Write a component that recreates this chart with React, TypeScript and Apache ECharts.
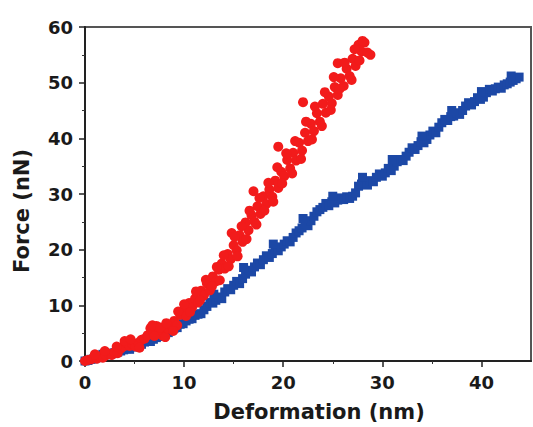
import React, { useEffect, useRef } from "react";
import * as echarts from "echarts";

const xTicks = [0, 10, 20, 30, 40];
const xMinorTicks = [5, 15, 25, 35];
const yTicks = [0, 10, 20, 30, 40, 50, 60];

// Blue series (softer sample): [deformation nm, force nN]
const bluePoints: number[][] = [
  [0,0],[0.3,0.1],[0.6,0.3],[0.9,0.4],[1.2,0.6],[1.5,0.7],[1.8,1.2],[2.1,1.4],[2.4,1.1],[2.7,1.3],
  [3.0,1.5],[3.3,1.6],[3.6,1.8],[3.9,2.0],[4.2,2.2],[4.5,2.1],[4.8,2.5],[5.1,2.6],[5.4,2.9],[5.7,3.0],
  [6.0,3.4],[6.3,3.6],[6.6,3.5],[6.9,3.9],[7.2,4.2],[7.5,4.4],[7.8,4.5],[8.1,5.0],[8.4,5.1],[8.7,5.6],
  [9.0,5.9],[9.3,6.0],[9.6,6.6],[9.9,6.7],[10.2,7.2],[10.5,7.5],[10.8,7.6],[11.1,8.2],[11.4,8.4],[11.7,8.5],
  [12.0,9.2],[12.3,9.8],[12.6,10.5],[12.9,10.4],[13.2,10.9],[13.5,11.5],[13.8,11.2],[14.1,12.4],[14.4,13.0],[14.7,12.8],
  [15.0,13.6],[15.3,14.3],[15.6,13.9],[15.9,14.8],[16.2,15.6],[16.5,16.3],[16.8,16.0],[17.1,16.9],[17.4,17.6],[17.7,17.3],
  [18.0,18.2],[18.3,18.9],[18.6,18.6],[18.9,19.3],[19.2,20.1],[19.5,19.8],[19.8,20.5],[20.1,21.0],[20.4,21.6],[20.7,21.4],
  [21.0,22.2],[21.3,23.0],[21.6,23.4],[21.9,23.9],[22.2,24.6],[22.5,24.3],[22.8,25.2],[23.1,26.0],[23.4,26.8],[23.7,27.2],
  [24.0,27.6],[24.3,28.3],[24.6,27.9],[24.9,28.6],[25.2,28.4],[25.5,28.9],[25.8,29.3],[26.1,29.0],[26.4,29.5],[26.7,29.2],
  [27.0,29.6],[27.3,30.2],[27.6,31.4],[27.9,31.8],[28.2,32.0],[28.5,31.6],[28.8,32.4],[29.1,32.2],[29.4,33.0],[29.7,33.6],
  [30.0,33.2],[30.3,33.8],[30.6,34.6],[30.9,34.2],[31.2,35.0],[31.5,35.8],[31.8,36.2],[32.1,36.0],[32.4,36.8],[32.7,37.5],
  [33.0,38.3],[33.3,38.0],[33.6,38.7],[33.9,39.4],[34.2,39.2],[34.5,39.8],[34.8,40.6],[35.1,41.3],[35.4,41.0],[35.7,42.0],
  [36.0,42.8],[36.3,43.4],[36.6,43.2],[36.9,43.9],[37.2,44.0],[37.5,44.6],[37.8,44.3],[38.1,45.0],[38.4,45.8],[38.7,46.4],
  [39.0,46.0],[39.3,46.6],[39.6,47.3],[39.9,47.0],[40.2,47.4],[40.5,48.2],[40.8,48.8],[41.1,48.5],[41.4,48.9],[41.7,49.2],
  [42.0,49.0],[42.3,49.6],[42.6,49.8],[42.9,50.1],[43.2,50.4],[43.5,50.7],[43.8,51.0],
  [13.0,12.0],[16.0,16.8],[19.0,21.0],[22.0,25.6],[25.0,29.6],[28.0,33.0],[31.0,36.2],[34.0,40.4],[37.0,45.0],[40.0,48.4],[43.0,51.2]
];

// Red series (stiffer sample): [deformation nm, force nN]
const redPoints: number[][] = [
  [0,0],[0.3,0.2],[0.6,0.3],[0.9,0.5],[1.2,0.4],[1.5,0.8],[1.8,0.6],[2.1,1.0],[2.4,1.3],[2.7,1.1],
  [3.0,1.6],[3.3,1.4],[3.6,2.2],[3.9,2.6],[4.2,3.2],[4.5,2.7],[4.8,3.0],[5.1,2.6],[5.4,3.3],[5.7,3.8],
  [6.0,4.0],[6.3,4.6],[6.6,5.9],[6.9,5.2],[7.2,6.3],[7.5,5.1],[7.8,4.6],[8.1,4.3],[8.4,5.8],[8.7,6.5],
  [9.0,7.2],[9.3,6.4],[9.6,8.3],[9.9,9.0],[10.2,8.1],[10.5,10.4],[10.8,9.6],[11.1,11.2],[11.4,10.5],[11.7,12.6],
  [12.0,11.8],[12.3,13.9],[12.6,12.7],[12.9,15.2],[13.2,14.3],[13.5,16.4],[13.8,17.5],[14.1,16.6],[14.4,19.2],[14.7,18.3],
  [15.0,20.8],[15.3,19.9],[15.6,22.6],[15.9,21.4],[16.2,24.9],[16.5,23.5],[16.8,26.2],[17.1,25.0],[17.4,27.8],[17.7,26.4],
  [18.0,29.6],[18.3,28.2],[18.6,30.8],[18.9,29.5],[19.2,32.4],[19.5,31.1],[19.8,34.0],[20.1,33.2],[20.4,36.1],[20.7,34.6],
  [21.0,37.4],[21.3,36.0],[21.6,39.2],[21.9,37.8],[22.2,41.0],[22.5,39.5],[22.8,42.6],[23.1,41.3],[23.4,44.5],[23.7,43.0],
  [24.0,46.2],[24.3,44.6],[24.6,47.5],[24.9,46.3],[25.2,49.2],[25.5,47.8],[25.8,50.8],[26.1,49.4],[26.4,52.5],[26.7,51.2],
  [27.0,54.3],[27.3,53.0],[27.6,56.8],[27.9,55.6],[28.2,57.2],[28.5,55.4],[28.8,55.0],
  [19.5,38.5],[22.0,46.5],[25.5,53.5],[17.0,30.5],[14.8,23.0],
  [1.0,1.2],[2.0,1.8],[3.2,2.6],[4.0,3.6],[4.6,3.9],[5.5,2.4],[6.8,6.4],[7.0,4.5],[7.6,6.0],[8.2,6.8],
  [8.9,5.4],[9.4,8.9],[10.0,10.2],[10.6,8.8],[11.2,12.5],[11.6,10.9],[12.2,14.6],[12.8,13.4],[13.3,16.9],[13.6,14.5],
  [14.0,19.0],[14.5,17.0],[15.1,22.3],[15.4,18.8],[15.8,24.2],[16.3,21.9],[16.6,27.0],[17.3,24.5],[17.6,29.3],[18.1,27.0],
  [18.5,32.0],[19.0,28.6],[19.4,34.8],[19.9,31.9],[20.3,37.3],[20.9,33.7],[21.2,39.5],[21.8,36.3],[22.3,43.0],[22.9,39.8],
  [23.2,45.7],[23.9,42.2],[24.2,48.3],[24.8,45.1],[25.1,51.0],[25.7,48.9],[26.2,53.6],[26.9,50.5],[27.2,56.0],[27.7,54.0],
  [28.0,57.5]
];

const FONT = "'DejaVu Sans', 'Liberation Sans', Arial, sans-serif";

export default function App() {
  const ref = useRef<HTMLDivElement>(null);
  useEffect(() => {
    if (!ref.current) return;
    const chart = echarts.init(ref.current, null, { renderer: "svg" });
    chart.setOption({
      animation: false,
      backgroundColor: "#ffffff",
      grid: {
        left: 85,
        right: 2,
        top: 27,
        bottom: 66,
        show: true,
        borderColor: "#555",
        borderWidth: 2,
      },
      xAxis: [
        {
          type: "value",
          min: 0,
          max: 45,
          interval: 10,
          splitLine: { show: false },
          axisLine: { show: true, lineStyle: { color: "#222", width: 2 } },
          axisTick: { show: true, inside: false, length: 6, customValues: xTicks, lineStyle: { color: "#222", width: 1.5 } },
          axisLabel: {
            customValues: xTicks,
            margin: 12,
            fontFamily: FONT,
            fontWeight: "bold",
            fontSize: 18,
            color: "#1a1a1a",
          },
        },
        {
          type: "value",
          min: 0,
          max: 45,
          position: "bottom",
          splitLine: { show: false },
          axisLine: { show: false },
          axisTick: { show: true, inside: false, length: 3, customValues: xMinorTicks, lineStyle: { color: "#333", width: 1 } },
          axisLabel: { show: false },
        },
      ],
      yAxis: {
        type: "value",
        min: 0,
        max: 60,
        interval: 10,
        splitLine: { show: false },
        axisLine: { show: true, lineStyle: { color: "#222", width: 2 } },
        axisTick: { show: true, inside: false, length: 6, lineStyle: { color: "#222", width: 1.5 } },
        minorTick: { show: true, splitNumber: 2, length: 3, lineStyle: { color: "#333", width: 1 } },
        axisLabel: {
          customValues: yTicks,
          margin: 12,
          fontFamily: FONT,
          fontWeight: "bold",
          fontSize: 18,
          color: "#1a1a1a",
        },
      },
      graphic: [
        {
          type: "text",
          x: 319,
          y: 412,
          style: {
            text: "Deformation (nm)",
            font: `bold 21px ${FONT}`,
            fill: "#1a1a1a",
            textAlign: "center",
            textVerticalAlign: "middle",
          },
        },
        {
          type: "text",
          x: 22,
          y: 211,
          rotation: Math.PI / 2,
          style: {
            text: "Force (nN)",
            font: `bold 21px ${FONT}`,
            fill: "#1a1a1a",
            textAlign: "center",
            textVerticalAlign: "middle",
          },
        },
      ],
      series: [
        {
          type: "scatter",
          name: "blue",
          xAxisIndex: 0,
          data: bluePoints,
          symbol: "rect",
          symbolSize: 9,
          itemStyle: { color: "#1c48a6", opacity: 1 },
        },
        {
          type: "scatter",
          name: "red",
          xAxisIndex: 0,
          data: redPoints,
          symbol: "circle",
          symbolSize: 10,
          itemStyle: { color: "#f21b1b", opacity: 1 },
        },
      ],
    });
    return () => chart.dispose();
  }, []);
  return (
    <div
      ref={ref}
      style={{ position: "fixed", left: 0, top: 0, width: 533, height: 427 }}
    />
  );
}
